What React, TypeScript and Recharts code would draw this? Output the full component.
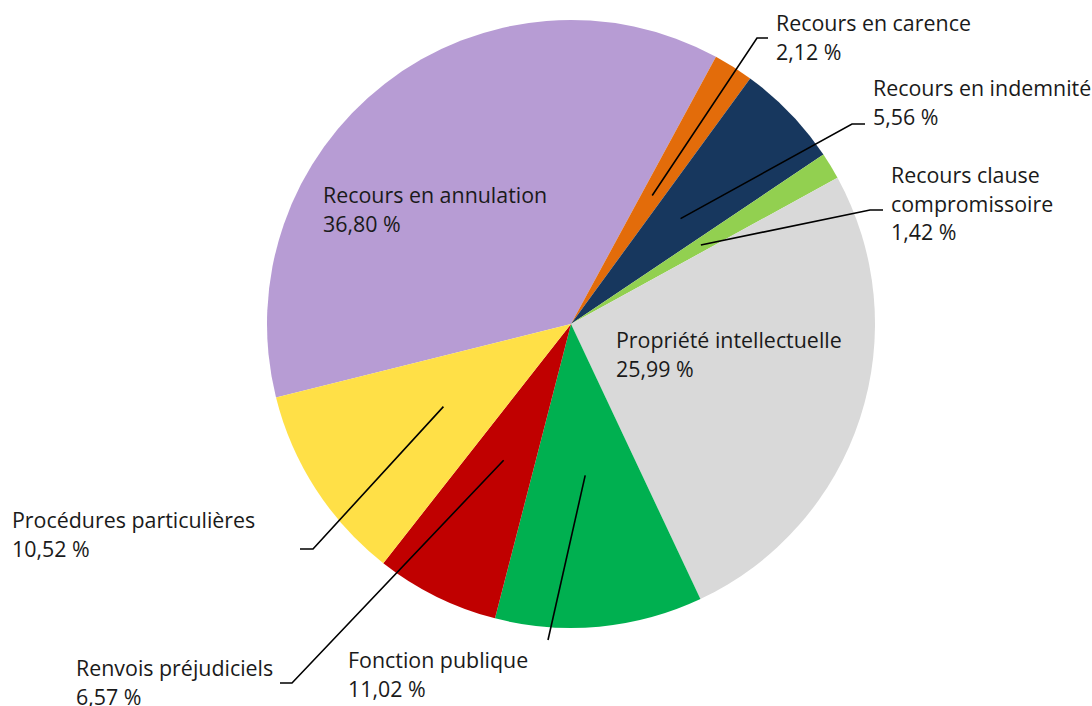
import { PieChart, Pie, Cell } from "recharts";

const categories = [
  "Recours en annulation",
  "Recours en carence",
  "Recours en indemnité",
  "Recours clause compromissoire",
  "Propriété intellectuelle",
  "Fonction publique",
  "Renvois préjudiciels",
  "Procédures particulières",
];

const shares = [36.8, 2.12, 5.56, 1.42, 25.99, 11.02, 6.57, 10.52];

const colors = [
  "#B79CD4",
  "#E36C0A",
  "#17375E",
  "#92D050",
  "#D9D9D9",
  "#00B050",
  "#C00000",
  "#FFE047",
];

// where each label goes (text x / first baseline, optional leader elbow)
type LabelPos = {
  x: number;
  y: number;
  elbow?: [number, number];
  tail?: number;
  wrap?: number;
};

const labelLayout: LabelPos[] = [
  { x: 323, y: 203 },
  { x: 776, y: 31, elbow: [757, 38], tail: 11 },
  { x: 873, y: 96, elbow: [852, 124], tail: 13 },
  { x: 891, y: 183, elbow: [870, 210], tail: 13, wrap: 2 },
  { x: 616, y: 348 },
  { x: 348, y: 668, elbow: [548, 640], tail: 0 },
  { x: 76, y: 676, elbow: [292, 683], tail: -12 },
  { x: 12, y: 528, elbow: [313, 549], tail: -13 },
];

const data = categories.map((name, i) => ({ name, value: shares[i] }));

const RAD = Math.PI / 180;
const LINE_H = 28.5;

const fmt = (v: number) => v.toFixed(2).replace(".", ",") + " %";

function renderLabel(props: any) {
  const { cx, cy, midAngle, outerRadius, index, value, name } = props;
  const pos = labelLayout[index];
  const words = String(name).split(" ");
  const lines =
    pos.wrap != null
      ? [words.slice(0, pos.wrap).join(" "), words.slice(pos.wrap).join(" ")]
      : [String(name)];
  lines.push(fmt(value));

  let leader = null;
  if (pos.elbow) {
    const r0 = outerRadius * 0.5;
    const sx = cx + r0 * Math.cos(-midAngle * RAD);
    const sy = cy + r0 * Math.sin(-midAngle * RAD);
    const [ex, ey] = pos.elbow;
    const tx = ex + (pos.tail ?? 0);
    leader = (
      <polyline
        points={`${sx},${sy} ${ex},${ey} ${tx},${ey}`}
        fill="none"
        stroke="#000"
        strokeWidth={1.6}
      />
    );
  }

  return (
    <g key={`lbl-${index}`}>
      {leader}
      <text
        x={pos.x}
        y={pos.y}
        fill="#1a1a1a"
        fontSize={21.4}
        fontFamily="'Open Sans', 'Noto Sans', sans-serif"
        textAnchor="start"
      >
        {lines.map((l, i) => (
          <tspan key={i} x={pos.x} dy={i === 0 ? 0 : LINE_H}>
            {l}
          </tspan>
        ))}
      </text>
    </g>
  );
}

export default function App() {
  return (
    <div
      style={{
        position: "absolute",
        left: 0,
        top: 0,
        width: 1092,
        height: 706,
        background: "#fff",
      }}
    >
      <PieChart
        width={1092}
        height={706}
        margin={{ top: 0, right: 0, bottom: 0, left: 0 }}
      >
        <Pie
          data={data}
          dataKey="value"
          nameKey="name"
          cx={571}
          cy={324}
          outerRadius={304}
          startAngle={194}
          endAngle={-166}
          stroke="none"
          label={renderLabel}
          labelLine={false}
          isAnimationActive={false}
        >
          {data.map((d, i) => (
            <Cell key={d.name} fill={colors[i]} />
          ))}
        </Pie>
      </PieChart>
    </div>
  );
}
